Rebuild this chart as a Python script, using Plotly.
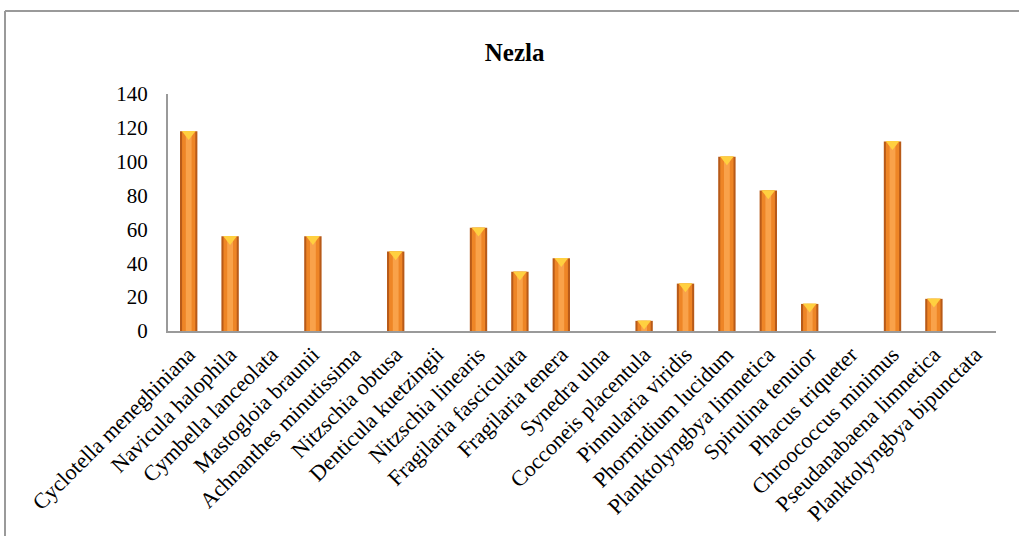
import plotly.graph_objects as go

# Species counts at Nezla
species = [
    "Cyclotella meneghiniana", "Navicula halophila", "Cymbella lanceolata",
    "Mastogloia braunii", "Achnanthes minutissima", "Nitzschia obtusa",
    "Denticula kuetzingii", "Nitzschia linearis", "Fragilaria fasciculata",
    "Fragilaria tenera", "Synedra ulna", "Cocconeis placentula",
    "Pinnularia viridis", "Phormidium lucidum", "Planktolyngbya limnetica",
    "Spirulina tenuior", "Phacus triqueter", "Chroococcus minimus",
    "Pseudanabaena limnetica", "Planktolyngbya bipunctata",
]
counts = [118, 56, 0, 56, 0, 47, 0, 61, 35, 43, 0, 6, 28, 103, 83, 16, 0, 112, 19, 0]
y_ticks = [0, 20, 40, 60, 80, 100, 120, 140]

fig = go.Figure()

# Cylinder-style bars: dark rim, orange body, light core
fig.add_trace(go.Bar(x=species, y=counts, width=0.42,
                     marker=dict(color="#B85A18", line=dict(width=0)),
                     hoverinfo="skip"))
fig.add_trace(go.Bar(x=species, y=counts, width=0.32,
                     marker=dict(color="#EE8526", line=dict(width=0)),
                     hoverinfo="skip"))
fig.add_trace(go.Bar(x=species, y=counts, width=0.14,
                     marker=dict(color="#F9A24A", line=dict(width=0)),
                     hoverinfo="skip"))

# Yellow cap just inside the top of each non-empty bar
caps = [v - 1.6 if v > 0 else None for v in counts]
fig.add_trace(go.Scatter(x=species, y=caps, mode="markers",
                         marker=dict(symbol="triangle-down", size=12,
                                     color="#FFD040", line=dict(width=0)),
                         cliponaxis=False, hoverinfo="skip"))

font_family = "Liberation Serif"

fig.update_layout(
    width=1019, height=537,
    margin=dict(l=168, r=23, t=94, b=206),
    paper_bgcolor="white", plot_bgcolor="white",
    barmode="overlay", showlegend=False,
    font=dict(family=font_family, color="black"),
    title=dict(text="<b>Nezla</b>", x=0.505, xanchor="center",
               y=1 - 52 / 537, yanchor="middle",
               font=dict(family=font_family, size=25, color="black")),
    xaxis=dict(type="category", showgrid=False, showline=True,
               linecolor="#9a9a9a", linewidth=2, ticks="",
               tickangle=-45, tickfont=dict(family=font_family, size=22, color="black"),
               range=[-0.5, len(species) - 0.5]),
    yaxis=dict(range=[0, 140], tickvals=y_ticks, showgrid=False,
               showline=True, linecolor="#9a9a9a", linewidth=2,
               ticks="", ticklabelstandoff=14,
               tickfont=dict(family=font_family, size=21, color="black"),
               zeroline=False),
)

# Frame around the chart area (top and left edges)
fig.add_shape(type="line", xref="paper", yref="paper",
              x0=(5 - 168) / 828, x1=(1019 - 168) / 828,
              y0=(331 - 11) / 237, y1=(331 - 11) / 237,
              line=dict(color="#9a9a9a", width=2))
fig.add_shape(type="line", xref="paper", yref="paper",
              x0=(5 - 168) / 828, x1=(5 - 168) / 828,
              y0=(331 - 11) / 237, y1=(331 - 536) / 237,
              line=dict(color="#9a9a9a", width=2))

fig.write_html("out.html")
